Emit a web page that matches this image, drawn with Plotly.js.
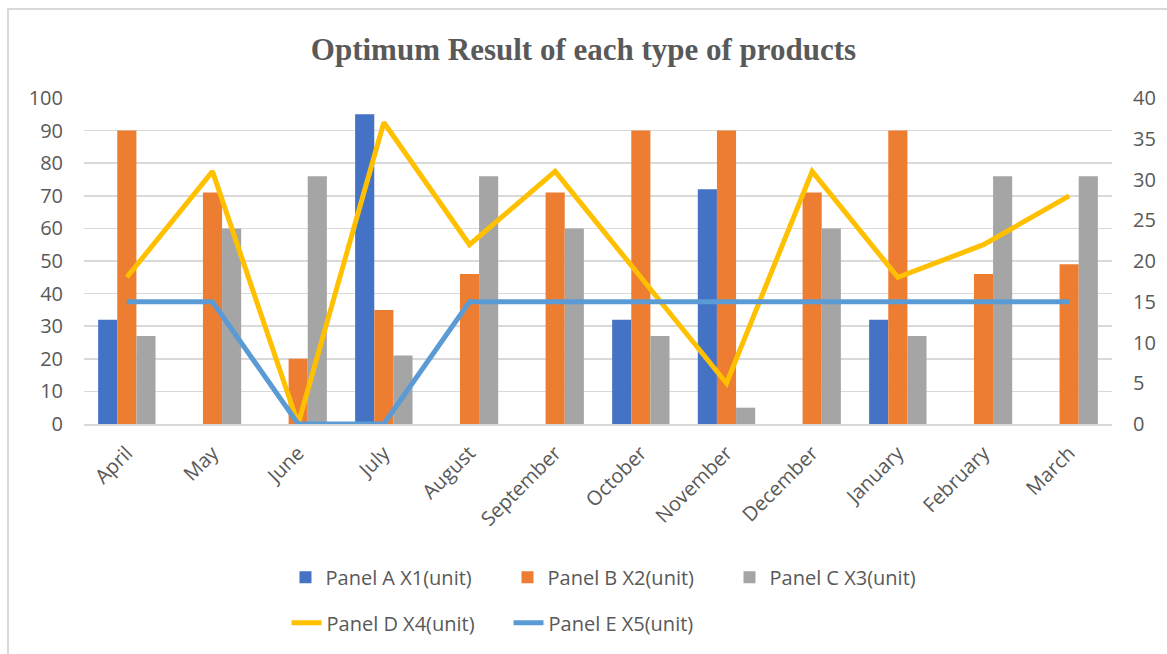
<!DOCTYPE html>
<html>
<head>
<meta charset="utf-8">
<script src="https://cdn.plot.ly/plotly-3.0.1.min.js"></script>
<style>
  html, body { margin: 0; padding: 0; background: #fff; }
  #frame { position: absolute; left: 7px; top: 8px; width: 1170px; height: 660px;
           border-top: 2px solid #d9d9d9; border-left: 2px solid #d9d9d9; }
  #chart { position: absolute; left: 0; top: 0; width: 1167px; height: 654px; }
</style>
</head>
<body>
<div id="frame"></div>
<div id="chart"></div>
<script>
const months = ["April","May","June","July","August","September","October","November","December","January","February","March"];
const panelA = [32, 0, 0, 95, 0, 0, 32, 72, 0, 32, 0, 0];
const panelB = [90, 71, 20, 35, 46, 71, 90, 90, 71, 90, 46, 49];
const panelC = [27, 60, 76, 21, 76, 60, 27, 5, 60, 27, 76, 76];
const panelD = [18, 31, 0, 37, 22, 31, 18, 5, 31, 18, 22, 28];
const panelE = [15, 15, 0, 0, 15, 15, 15, 15, 15, 15, 15, 15];
const leftTicks = [0,10,20,30,40,50,60,70,80,90,100];
const rightTicks = [0,5,10,15,20,25,30,35,40];

const gray = '#595959';
const font = {family: '"Open Sans", "Liberation Sans", sans-serif', size: 20, color: gray};

const traces = [
  {type:'bar', name:'Panel A X1(unit)', x:months, y:panelA, marker:{color:'#4472C4'}, legend:'legend'},
  {type:'bar', name:'Panel B X2(unit)', x:months, y:panelB, marker:{color:'#ED7D31'}, legend:'legend'},
  {type:'bar', name:'Panel C X3(unit)', x:months, y:panelC, marker:{color:'#A5A5A5'}, legend:'legend'},
  {type:'scatter', mode:'lines', name:'Panel D X4(unit)', x:months, y:panelD, yaxis:'y2',
   line:{color:'#FFC000', width:5}, legend:'legend2'},
  {type:'scatter', mode:'lines', name:'Panel E X5(unit)', x:months, y:panelE, yaxis:'y2',
   line:{color:'#5B9BD5', width:5}, legend:'legend2'}
];

const layout = {
  width: 1167, height: 654,
  margin: {l:84, r:55, t:98, b:230},
  paper_bgcolor: 'rgba(0,0,0,0)',
  plot_bgcolor: 'rgba(0,0,0,0)',
  font: font,
  title: {text:'Optimum Result of each type of products',
          font:{family:'"Liberation Serif", "Times New Roman", serif', size:31, color:gray, weight:'bold'},
          x:0.5, xanchor:'center', y:0.925, yanchor:'middle'},
  barmode: 'group',
  bargap: 0.33,
  bargroupgap: 0,
  xaxis: {type:'category', tickangle:-45, tickfont:{size:20, color:gray}, showgrid:false,
          showline:true, linecolor:'#d9d9d9', linewidth:1.5, ticks:'', ticklen:0, ticklabelstandoff:8},
  yaxis: {range:[0,100], tickvals:leftTicks, showgrid:true, gridcolor:'#d9d9d9', gridwidth:1.5,
          zeroline:false, showline:false, tickfont:{size:20, color:gray}, ticklabelstandoff:20},
  yaxis2: {range:[0,40], tickvals:rightTicks, overlaying:'y', side:'right', showgrid:false,
           zeroline:false, showline:false, tickfont:{size:20, color:gray}, ticklabelstandoff:20},
  showlegend: true,
  legend: {orientation:'h', x:0.196, xanchor:'left', y:-0.47, yanchor:'middle',
           font:{size:20, color:gray}, bgcolor:'rgba(0,0,0,0)', traceorder:'normal',
           entrywidth:177, entrywidthmode:'pixels'},
  legend2: {orientation:'h', x:0.197, xanchor:'left', y:-0.61, yanchor:'middle',
           font:{size:20, color:gray}, bgcolor:'rgba(0,0,0,0)', traceorder:'normal',
           entrywidth:177, entrywidthmode:'pixels'}
};

Plotly.newPlot('chart', traces, layout, {displayModeBar:false, staticPlot:true});
</script>
</body>
</html>
